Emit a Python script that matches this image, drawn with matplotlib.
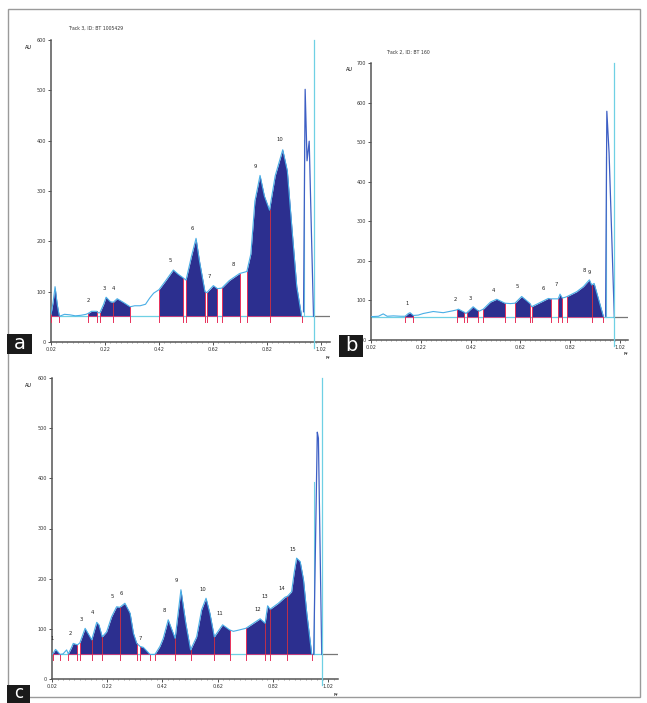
import numpy as np
import matplotlib
matplotlib.use("Agg")
import matplotlib.pyplot as plt
from matplotlib.patches import Rectangle

# ── Panel a: densitogram (Rf, AU) ─────────────────────────────────────────────
A_RF = [0.020, 0.028, 0.035, 0.043, 0.051, 0.070, 0.090, 0.110, 0.130, 0.150,
        0.158, 0.170, 0.189, 0.195, 0.201, 0.215, 0.224, 0.240, 0.251, 0.265,
        0.290, 0.313, 0.330, 0.350, 0.370, 0.385, 0.400, 0.420, 0.445, 0.473,
        0.490, 0.508, 0.520, 0.540, 0.557, 0.570, 0.590, 0.597, 0.621, 0.636,
        0.652, 0.680, 0.718, 0.745, 0.760, 0.775, 0.794, 0.810, 0.829, 0.850,
        0.878, 0.895, 0.913, 0.930, 0.948]
A_AU = [55, 80, 110, 75, 51, 55, 54, 52, 53, 55,
        57, 61, 61, 58, 58, 75, 89, 80, 79, 86,
        78, 70, 72, 72, 75, 87, 97, 104, 122, 143,
        135, 128, 123, 170, 206, 160, 100, 98, 112, 106,
        107, 122, 136, 140, 175, 280, 331, 290, 262, 330,
        382, 340, 220, 110, 51]
A_SEGMENTS = [(0.020, 0.051), (0.158, 0.189), (0.201, 0.313), (0.420, 0.508),
              (0.520, 0.590), (0.597, 0.636), (0.652, 0.718), (0.745, 0.948)]
A_SPLITS = [0.251, 0.829]
A_SPIKE_RF = [0.955, 0.961, 0.968, 0.976, 0.985, 0.992]
A_SPIKE_AU = [60, 502, 360, 399, 200, 51]
A_FRONT = 0.992
A_BASE = 51
A_LAB = ["2", "3", "4", "5", "6", "7", "8", "9", "10"]
A_LAB_RF = [0.157, 0.216, 0.253, 0.463, 0.542, 0.606, 0.695, 0.778, 0.868]
A_LAB_AU = [77, 102, 101, 157, 220, 125, 149, 344, 397]

# ── Panel b ───────────────────────────────────────────────────────────────────
B_RF = [0.020, 0.050, 0.069, 0.085, 0.110, 0.140, 0.157, 0.170, 0.177, 0.190,
        0.210, 0.230, 0.270, 0.310, 0.350, 0.364, 0.371, 0.395, 0.401, 0.407,
        0.430, 0.448, 0.455, 0.471, 0.500, 0.525, 0.558, 0.580, 0.598, 0.625,
        0.659, 0.665, 0.700, 0.732, 0.742, 0.760, 0.772, 0.779, 0.788, 0.800,
        0.808, 0.846, 0.873, 0.897, 0.906, 0.916, 0.953]
B_AU = [59, 60, 66, 60, 61, 60, 60, 67, 69, 62,
        63, 67, 72, 69, 74, 76, 78, 70, 67, 70,
        84, 75, 73, 78, 96, 103, 93, 92, 93, 110,
        92, 84, 95, 105, 104, 104, 104, 116, 106, 108,
        110, 122, 135, 152, 139, 143, 60]
B_SEGMENTS = [(0.157, 0.190), (0.364, 0.395), (0.407, 0.448), (0.471, 0.558),
              (0.598, 0.659), (0.665, 0.742), (0.772, 0.788), (0.808, 0.953)]
B_SPLITS = [0.906]
B_SPIKE_RF = [0.962, 0.967, 0.976, 0.997]
B_SPIKE_AU = [60, 578, 473, 59]
B_FRONT = 0.997
B_BASE = 59
B_LAB = ["1", "2", "3", "4", "5", "6", "7", "8", "9"]
B_LAB_RF = [0.163, 0.360, 0.420, 0.511, 0.609, 0.712, 0.763, 0.875, 0.897]
B_LAB_AU = [86, 95, 99, 118, 128, 124, 133, 170, 163]

# ── Panel c ───────────────────────────────────────────────────────────────────
C_RF = [0.020, 0.025, 0.033, 0.040, 0.049, 0.060, 0.073, 0.079, 0.090, 0.097,
        0.112, 0.121, 0.140, 0.164, 0.182, 0.190, 0.202, 0.218, 0.236, 0.254,
        0.266, 0.284, 0.303, 0.315, 0.327, 0.339, 0.351, 0.375, 0.393, 0.411,
        0.423, 0.441, 0.466, 0.487, 0.505, 0.522, 0.544, 0.562, 0.578, 0.592,
        0.608, 0.638, 0.663, 0.677, 0.700, 0.722, 0.774, 0.792, 0.801, 0.810,
        0.840, 0.864, 0.873, 0.888, 0.897, 0.906, 0.919, 0.931, 0.943, 0.961]
C_AU = [49, 52, 59, 55, 49, 50, 58, 50, 62, 71,
        68, 72, 101, 78, 113, 108, 84, 94, 124, 144,
        143, 151, 131, 91, 71, 65, 63, 49, 49, 65,
        81, 118, 81, 178, 110, 58, 84, 138, 161, 131,
        84, 108, 98, 95, 98, 101, 120, 111, 146, 139,
        151, 163, 165, 174, 211, 241, 234, 198, 131, 49]
C_SEGMENTS = [(0.025, 0.049), (0.079, 0.112), (0.121, 0.327), (0.339, 0.375),
              (0.393, 0.663), (0.722, 0.961)]
C_SPLITS = [0.164, 0.202, 0.266, 0.466, 0.522, 0.608, 0.792, 0.810, 0.873]
C_SPIKE_RF = [0.968, 0.981, 0.985, 0.997]
C_SPIKE_AU = [49, 492, 480, 49]
C_FRONT = 0.997
C_BASE = 49
C_LAB = ["1", "2", "3", "4", "5", "6", "7", "8", "9", "10", "11", "12", "13", "14", "15"]
C_LAB_RF = [0.019, 0.085, 0.127, 0.167, 0.239, 0.272, 0.341, 0.426, 0.472,
            0.568, 0.629, 0.764, 0.789, 0.852, 0.892]
C_LAB_AU = [76, 86, 114, 128, 159, 166, 75, 131, 191, 174, 126, 133, 159, 176, 254]

X_TICKS = [0.02, 0.22, 0.42, 0.62, 0.82, 1.02]

W, H = 647, 703
NAVY = "#2c2f8f"
CURVE = "#49aee6"
CYAN = "#6fd0e4"
RED = "#e8305a"
SPIKE = "#3d5fc4"
AXIS = "#555555"

fig = plt.figure(figsize=(W / 100, H / 100), dpi=100)


def panel(box, xmax, ymax, rf, au, segs, splits, spike_rf, spike_au,
          front, base, labs, lab_rf, lab_au, title=None):
    left, right, top, bottom = box
    ax = fig.add_axes([left / W, 1 - bottom / H, (right - left) / W, (bottom - top) / H])
    rf = np.array(rf)
    au = np.array(au)

    # baseline
    ax.plot([0.02, front], [base, base], color=CYAN, lw=0.9, zorder=2)
    ax.plot([front, xmax], [base, base], color="#777777", lw=0.9, zorder=2)

    # integrated peaks
    for r0, r1 in segs:
        m = (rf >= r0 - 1e-9) & (rf <= r1 + 1e-9)
        ax.fill_between(rf[m], base, au[m], color=NAVY, lw=0, zorder=3)
        ax.plot([r0, r1], [base, base], color="#e0407a", lw=0.6, zorder=4)
        for r in (r0, r1):
            i = int(np.argmin(np.abs(rf - r)))
            ax.plot([r, r], [base, au[i]], color=RED, lw=0.7, zorder=4)
            ax.plot([r, r], [base - ymax * 0.02, base], color=RED, lw=0.7, zorder=4)
    for r in splits:
        i = int(np.argmin(np.abs(rf - r)))
        ax.plot([r, r], [base, au[i]], color="#c0304a", lw=0.7, zorder=4)
        ax.plot([r, r], [base - ymax * 0.02, base], color=RED, lw=0.7, zorder=4)

    ax.plot(rf, au, color=CURVE, lw=0.8, zorder=5)

    # solvent front
    ax.plot([spike_rf[0], spike_rf[0]], [base, spike_au[1] * 0.8], color=CYAN, lw=0.8, zorder=5)
    ax.plot(spike_rf, spike_au, color=SPIKE, lw=0.9, zorder=6)
    ax.plot([front, front], [-ymax * 0.02, ymax], color=CYAN, lw=0.9, zorder=6, clip_on=False)

    for t, x, y in zip(labs, lab_rf, lab_au):
        ax.text(x, y, t, fontsize=3.8, ha="center", va="bottom", color="#222222", zorder=7)

    ax.set_xlim(0.02, xmax)
    ax.set_ylim(0, ymax)
    ax.set_xticks(X_TICKS)
    ax.set_xticklabels([f"{v:.2f}" for v in X_TICKS])
    ax.set_yticks(np.arange(0, ymax + 1, 100))
    ax.tick_params(labelsize=3.5, length=2, width=0.6, pad=1.5, colors="#333333")
    ax.xaxis.set_minor_locator(plt.MultipleLocator(0.02))
    ax.tick_params(axis="x", which="minor", length=1, width=0.4, color=AXIS)
    for s in ("top", "right"):
        ax.spines[s].set_visible(False)
    for s in ("left", "bottom"):
        ax.spines[s].set_color(AXIS)
        ax.spines[s].set_linewidth(1.1)
    ax.patch.set_alpha(0)
    ax.text(-0.07, 0.985, "AU", transform=ax.transAxes, fontsize=3.5, ha="right", va="top")
    ax.text(1.0, -0.045, "Rf", transform=ax.transAxes, fontsize=3.2, ha="right", va="top")
    if title:
        ax.text(0.06, 1.03, title, transform=ax.transAxes, fontsize=3.3, ha="left",
                va="bottom", color="#333333")
    return ax


panel((51, 330, 40, 342), 1.053, 600, A_RF, A_AU, A_SEGMENTS, A_SPLITS,
      A_SPIKE_RF, A_SPIKE_AU, A_FRONT, A_BASE, A_LAB, A_LAB_RF, A_LAB_AU,
      title="Track 3, ID: BT 1005429")
panel((371, 628, 63, 340), 1.052, 700, B_RF, B_AU, B_SEGMENTS, B_SPLITS,
      B_SPIKE_RF, B_SPIKE_AU, B_FRONT, B_BASE, B_LAB, B_LAB_RF, B_LAB_AU,
      title="Track 2, ID: BT 160")
panel((52, 338, 378, 679), 1.056, 600, C_RF, C_AU, C_SEGMENTS, C_SPLITS,
      C_SPIKE_RF, C_SPIKE_AU, C_FRONT, C_BASE, C_LAB, C_LAB_RF, C_LAB_AU)

# outer frame
fig.add_artist(Rectangle((8 / W, 1 - 697 / H), 632 / W, 688 / H, transform=fig.transFigure,
                         fill=False, edgecolor="#9a9a9a", lw=1.0))

# panel letters
for letter, (x0, y0, x1, y1), fs in [("a", (7, 334, 32, 354), 14), ("b", (339, 335, 363, 357), 14),
                                     ("c", (7, 685, 30, 703), 12)]:
    fig.add_artist(Rectangle((x0 / W, 1 - y1 / H), (x1 - x0) / W, (y1 - y0) / H,
                             transform=fig.transFigure, facecolor="#1a1a1a", edgecolor="none"))
    fig.text((x0 + x1) / 2 / W, 1 - (y0 + y1) / 2 / H + 0.001, letter, color="white",
             fontsize=fs, ha="center", va="center")

fig.savefig("out.png", dpi=100)
